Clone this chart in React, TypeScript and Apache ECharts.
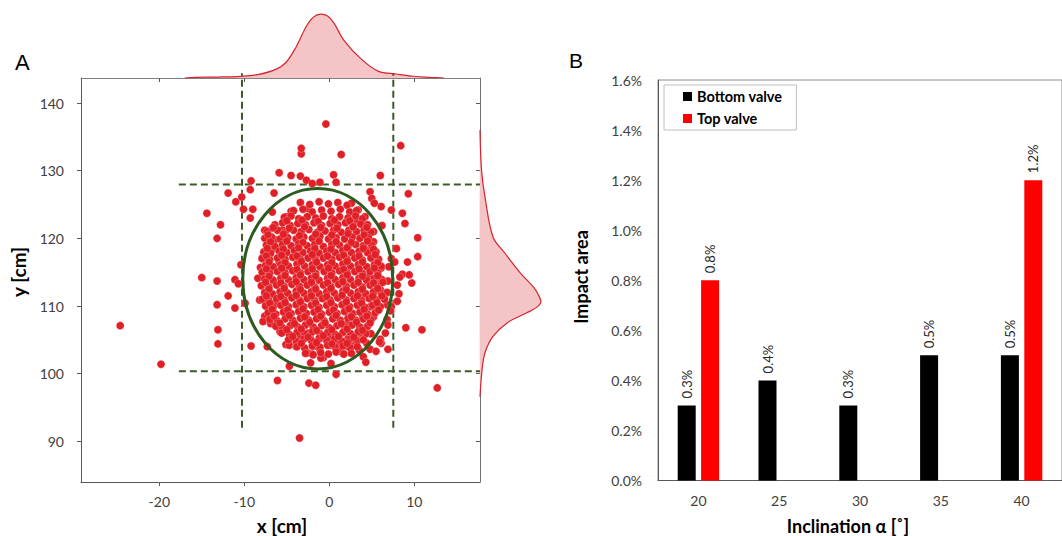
import React, { useEffect, useRef } from 'react';
import * as echarts from 'echarts';

// ---------- Panel A data (cm) ----------
const xTicks = [-20, -10, 0, 10];
const yTicks = [90, 100, 110, 120, 130, 140];

const outlierPoints: number[][] = [
  [-11.9, 126.7], [-11.0, 125.4], [-10.3, 126.1], [-10.1, 124.3], [-14.4, 123.7], [-12.8, 122.0], [-13.2, 120.0],
  [-9.2, 128.5], [-9.3, 127.2], [-9.3, 123.0], [-10.4, 116.1], [-15.0, 114.2], [-13.2, 113.7], [-11.1, 113.9],
  [-10.7, 113.3], [-11.9, 111.5], [-13.2, 110.2], [-11.1, 109.7], [-9.9, 110.4], [-24.6, 107.1], [-13.1, 106.5],
  [-13.1, 104.4], [-19.8, 101.4], [-9.2, 104.1],
  [8.4, 133.7], [9.3, 126.6], [6.0, 129.3], [6.1, 124.7], [7.3, 124.2], [8.6, 123.7], [8.9, 122.2], [6.2, 121.9],
  [10.4, 120.1], [7.9, 118.5], [10.4, 117.3], [7.3, 117.0], [7.7, 116.5], [9.2, 116.5], [7.0, 115.8], [6.1, 115.6],
  [8.6, 114.7], [9.4, 114.6], [8.3, 114.3], [6.3, 113.7], [6.9, 113.7], [8.0, 113.1], [9.7, 113.4], [6.2, 112.1],
  [6.8, 112.0], [8.2, 111.8], [8.0, 110.7], [6.8, 110.2], [7.3, 109.9], [7.2, 109.3], [6.8, 108.0], [9.0, 106.8],
  [10.9, 106.5], [6.0, 105.1], [6.6, 106.0], [6.1, 104.5], [6.9, 103.6], [12.7, 97.9],
  [1.4, 132.4], [0.5, 129.4], [0.8, 128.3], [4.8, 126.9], [5.0, 125.9], [5.3, 125.2], [-3.3, 132.5], [-3.3, 133.3],
  [-0.4, 136.9], [-5.9, 129.7], [-4.5, 129.3], [-3.4, 129.2], [-2.7, 128.6], [-2.0, 128.1], [-1.1, 128.3],
  [-6.5, 126.7], [-9.0, 124.3], [-6.7, 123.9], [-4.5, 124.0], [-5.1, 123.2], [-2.5, 124.4],
  [-7.6, 121.2], [-6.7, 121.5], [-5.5, 121.2], [-7.0, 119.9], [-6.4, 119.8], [-6.6, 118.5], [-5.6, 118.8],
  [-7.9, 117.1], [-6.8, 115.8], [-5.9, 116.5], [-8.1, 115.7], [-7.8, 115.2], [-7.1, 115.7], [-8.4, 114.1],
  [-6.6, 113.8], [-8.2, 110.9], [-7.5, 110.6], [-6.3, 110.4], [-7.1, 109.7], [-7.6, 108.5], [-7.8, 107.7],
  [-6.9, 107.4], [-5.8, 106.6],
  [6.9, 107.2], [5.9, 104.7], [4.8, 103.6], [4.0, 102.5], [2.6, 125.2], [3.4, 124.2], [4.2, 123.2], [3.2, 122.5],
  [5.2, 121.0], [4.2, 120.7], [5.2, 119.5], [4.4, 118.3], [5.4, 117.3], [5.2, 115.6], [4.6, 114.3], [5.5, 113.6],
  [6.0, 112.4], [5.2, 111.4], [3.8, 111.4], [4.8, 109.9], [5.8, 109.4], [5.2, 108.4], [3.9, 108.2], [4.4, 106.9],
  [3.6, 106.0], [2.8, 104.7], [2.1, 107.4], [2.8, 108.9],
  [-7.3, 104.0], [-5.1, 104.3], [-4.7, 104.2], [-3.9, 104.0], [-4.7, 101.1], [-6.1, 99.0], [-2.4, 98.6],
  [-1.6, 98.3], [-2.2, 101.6], [0.2, 101.5], [0.8, 99.9], [4.3, 101.7], [-3.5, 90.5], [-2.6, 103.1], [-2.0, 102.9],
  [-0.7, 102.4], [1.7, 102.9], [3.5, 103.5], [5.5, 103.3], [-1.6, 104.1], [0.1, 104.2], [2.2, 104.0], [1.3, 103.3],
  [-1.1, 103.5], [0.9, 104.5], [-2.3, 105.5], [-3.5, 105.7], [-1.1, 105.2], [-0.1, 105.5], [2.2, 105.2],
  [3.2, 104.7], [4.4, 104.5], [4.9, 105.9], [-4.6, 105.7], [-5.8, 106.2], [-2.5, 106.0], [-1.0, 102.3],
];

const corePoints: number[][] = [
  [-3.4, 125.3], [-2.3, 125.0], [-1.2, 125.4], [-0.1, 125.1], [1.0, 125.3], [2.1, 124.9],
  [-4.2, 124.1], [-3.1, 124.3], [-2.0, 123.9], [-0.9, 124.2], [0.2, 124.0], [1.3, 124.3], [2.4, 123.9], [3.2, 124.1],
  [-5.3, 123.1], [-4.5, 123.3], [-3.6, 122.9], [-2.6, 123.2], [-1.6, 123.0], [-0.7, 123.3], [0.3, 122.9], [1.2, 123.2], [2.2, 123.0], [3.1, 123.3], [3.9, 122.9],
  [-6.4, 122.0], [-5.5, 122.3], [-4.6, 121.9], [-3.7, 122.2], [-2.8, 122.0], [-1.8, 122.3], [-0.9, 121.9], [0.1, 122.2], [1.0, 122.0], [1.9, 122.3], [2.8, 121.9], [3.7, 122.1], [4.5, 122.0],
  [-7.3, 121.0], [-6.1, 121.2], [-5.2, 120.9], [-4.2, 121.2], [-3.3, 121.0], [-2.4, 121.3], [-1.4, 120.9], [-0.5, 121.1], [0.5, 121.2], [1.4, 120.9], [2.3, 121.2], [3.2, 121.0], [4.1, 121.2], [4.9, 120.9],
  [-7.6, 120.0], [-6.8, 120.2], [-5.8, 119.9], [-4.9, 120.1], [-3.9, 119.9], [-3.0, 120.2], [-2.0, 120.0], [-1.1, 120.3], [-0.1, 119.9], [0.8, 120.1], [1.8, 119.9], [2.7, 120.2], [3.6, 120.0], [4.6, 120.1],
  [-7.4, 119.0], [-6.4, 118.8], [-5.5, 119.1], [-4.5, 118.9], [-3.6, 119.2], [-2.6, 118.9], [-1.7, 119.1], [-0.7, 118.8], [0.3, 119.1], [1.2, 119.0], [2.2, 118.8], [3.1, 119.1], [4.0, 118.9], [5.0, 119.0],
  [-7.7, 118.0], [-6.9, 117.8], [-5.9, 118.1], [-5.0, 117.9], [-4.1, 118.2], [-3.1, 117.9], [-2.2, 118.1], [-1.2, 117.8], [-0.3, 118.1], [0.7, 117.9], [1.6, 118.2], [2.6, 117.9], [3.5, 118.1], [4.5, 117.9], [5.5, 118.0],
  [-7.9, 117.0], [-7.0, 116.8], [-6.1, 117.1], [-5.2, 116.9], [-4.3, 117.2], [-3.4, 116.9], [-2.5, 117.1], [-1.6, 116.8], [-0.7, 117.1], [0.3, 116.9], [1.2, 117.2], [2.1, 116.9], [3.0, 117.1], [3.9, 116.8], [4.9, 117.1], [5.8, 116.9],
  [-7.5, 116.0], [-6.6, 115.8], [-5.7, 116.1], [-4.8, 115.9], [-3.8, 116.2], [-2.9, 115.9], [-2.0, 116.1], [-1.1, 115.8], [-0.2, 116.1], [0.7, 115.9], [1.6, 116.2], [2.5, 115.9], [3.4, 116.1], [4.4, 115.8], [5.3, 116.1], [6.1, 115.9],
  [-7.9, 115.0], [-7.0, 114.8], [-6.1, 115.1], [-5.2, 114.9], [-4.3, 115.2], [-3.4, 114.9], [-2.5, 115.1], [-1.6, 114.8], [-0.6, 115.1], [0.3, 114.9], [1.2, 115.2], [2.1, 114.9], [3.0, 115.1], [3.9, 114.8], [4.8, 115.1], [5.7, 114.9],
  [-7.6, 114.0], [-6.6, 113.8], [-5.7, 114.1], [-4.8, 113.9], [-3.9, 114.2], [-3.0, 113.9], [-2.1, 114.1], [-1.2, 113.8], [-0.2, 114.1], [0.7, 113.9], [1.6, 114.2], [2.5, 113.9], [3.5, 114.1], [4.4, 113.8], [5.3, 114.1], [6.2, 113.9],
  [-8.0, 113.0], [-7.1, 112.8], [-6.2, 113.1], [-5.3, 112.9], [-4.4, 113.2], [-3.5, 112.9], [-2.6, 113.1], [-1.7, 112.8], [-0.7, 113.1], [0.2, 112.9], [1.1, 113.2], [2.0, 112.9], [2.9, 113.1], [3.9, 112.8], [4.8, 113.1], [5.7, 112.9],
  [-7.6, 112.0], [-6.7, 111.8], [-5.8, 112.1], [-4.9, 111.9], [-3.9, 112.2], [-3.0, 111.9], [-2.1, 112.1], [-1.2, 111.8], [-0.3, 112.1], [0.6, 111.9], [1.6, 112.2], [2.5, 111.9], [3.4, 112.1], [4.3, 111.8], [5.2, 112.1], [6.1, 111.9], [6.8, 112.0],
  [-7.9, 111.0], [-7.1, 110.8], [-6.2, 111.1], [-5.3, 110.9], [-4.4, 111.2], [-3.5, 110.9], [-2.6, 111.1], [-1.7, 110.8], [-0.8, 111.1], [0.1, 110.9], [1.0, 111.2], [2.0, 110.9], [2.9, 111.1], [3.8, 110.8], [4.7, 111.1], [5.6, 110.9], [6.5, 111.0],
  [-7.5, 110.0], [-6.6, 109.8], [-5.7, 110.1], [-4.8, 109.9], [-3.9, 110.2], [-3.0, 109.9], [-2.1, 110.1], [-1.2, 109.8], [-0.3, 110.1], [0.6, 109.9], [1.5, 110.2], [2.4, 109.9], [3.3, 110.1], [4.2, 109.8], [5.1, 110.1], [6.0, 109.9],
  [-7.2, 109.0], [-6.3, 108.8], [-5.4, 109.1], [-4.5, 108.9], [-3.6, 109.2], [-2.7, 108.9], [-1.8, 109.1], [-0.9, 108.8], [0.0, 109.1], [0.9, 108.9], [1.8, 109.2], [2.7, 108.9], [3.6, 109.1], [4.5, 108.8], [5.4, 109.0],
  [-7.0, 108.0], [-6.1, 107.8], [-5.2, 108.1], [-4.3, 107.9], [-3.4, 108.2], [-2.4, 107.9], [-1.5, 108.1], [-0.6, 107.8], [0.4, 108.1], [1.3, 107.9], [2.2, 108.2], [3.1, 107.9], [4.0, 108.1], [4.9, 107.9],
  [-6.3, 107.0], [-5.5, 106.8], [-4.6, 107.1], [-3.7, 106.9], [-2.8, 107.2], [-1.9, 106.9], [-0.9, 107.1], [0.0, 106.8], [0.9, 107.1], [1.8, 106.9], [2.7, 107.2], [3.6, 106.9], [4.5, 107.0],
  [-5.6, 106.0], [-4.7, 105.8], [-3.8, 106.1], [-2.9, 105.9], [-2.0, 106.2], [-1.1, 105.9], [-0.2, 106.1], [0.7, 105.8], [1.6, 106.1], [2.5, 105.9], [3.4, 106.2], [4.3, 105.9],
  [-4.8, 105.0], [-3.9, 104.8], [-3.0, 105.1], [-2.1, 104.9], [-1.2, 105.2], [-0.3, 104.9], [0.6, 105.1], [1.5, 104.8], [2.4, 105.1], [3.3, 104.9], [4.0, 105.0],
  [-3.8, 104.0], [-2.9, 103.8], [-2.0, 104.1], [-1.1, 103.9], [-0.2, 104.2], [0.7, 103.9], [1.6, 104.1], [2.5, 103.8], [3.3, 104.0],
  [-2.8, 103.0], [-1.9, 102.8], [-1.0, 103.1], [-0.1, 102.9], [0.8, 103.2], [1.7, 102.9], [2.6, 103.0],
];

// overlapping points lying between the rows above (the dense core)
const coreFillPoints: number[][] = [
  [-5.0, 122.6], [-3.2, 122.7], [-1.3, 122.5], [0.6, 122.7], [2.4, 122.6],
  [-6.6, 121.6], [-4.7, 121.5], [-2.9, 121.7], [-1.0, 121.6], [0.9, 121.5], [2.8, 121.7], [4.4, 121.6],
  [-7.2, 120.5], [-5.4, 120.6], [-3.5, 120.4], [-1.6, 120.6], [0.3, 120.5], [2.2, 120.7], [4.1, 120.5],
  [-6.9, 119.5], [-5.0, 119.6], [-3.1, 119.4], [-1.2, 119.6], [0.8, 119.5], [2.6, 119.4], [4.5, 119.6],
  [-7.3, 118.5], [-5.4, 118.4], [-3.6, 118.6], [-1.7, 118.5], [0.2, 118.4], [2.1, 118.6], [4.0, 118.5], [5.2, 118.4],
  [-7.4, 117.4], [-5.6, 117.5], [-3.8, 117.4], [-2.0, 117.6], [-0.2, 117.4], [1.7, 117.5], [3.5, 117.4], [5.4, 117.6],
  [-7.1, 116.5], [-5.2, 116.4], [-3.3, 116.6], [-1.5, 116.5], [0.3, 116.4], [2.1, 116.6], [3.9, 116.5], [5.7, 116.4],
  [-7.4, 115.5], [-5.6, 115.6], [-3.8, 115.4], [-2.0, 115.5], [-0.1, 115.6], [1.7, 115.4], [3.5, 115.5], [5.3, 115.6],
  [-7.1, 114.4], [-5.2, 114.5], [-3.4, 114.6], [-1.6, 114.4], [0.2, 114.5], [2.1, 114.6], [3.9, 114.4], [5.7, 114.5],
  [-7.5, 113.5], [-5.7, 113.4], [-3.9, 113.6], [-2.1, 113.5], [-0.2, 113.4], [1.6, 113.6], [3.4, 113.5], [5.2, 113.4], [6.3, 113.5],
  [-7.1, 112.5], [-5.3, 112.6], [-3.4, 112.4], [-1.6, 112.5], [0.2, 112.6], [2.0, 112.4], [3.9, 112.5], [5.7, 112.6],
  [-7.4, 111.5], [-5.7, 111.4], [-3.9, 111.6], [-2.1, 111.5], [-0.3, 111.4], [1.5, 111.6], [3.3, 111.5], [5.1, 111.4], [6.2, 111.5],
  [-7.0, 110.4], [-5.2, 110.5], [-3.4, 110.6], [-1.6, 110.4], [0.2, 110.5], [2.0, 110.6], [3.8, 110.4], [5.6, 110.5],
  [-6.7, 109.5], [-4.9, 109.4], [-3.1, 109.6], [-1.3, 109.5], [0.5, 109.4], [2.3, 109.6], [4.1, 109.5], [5.8, 109.4],
  [-6.5, 108.5], [-4.7, 108.6], [-2.9, 108.4], [-1.0, 108.5], [0.8, 108.6], [2.6, 108.4], [4.4, 108.5],
  [-5.8, 107.5], [-4.1, 107.4], [-2.3, 107.6], [-0.5, 107.5], [1.4, 107.4], [3.2, 107.6], [4.8, 107.5],
  [-5.0, 106.5], [-3.3, 106.6], [-1.5, 106.4], [0.3, 106.5], [2.1, 106.6], [3.9, 106.4],
  [-4.3, 105.5], [-2.5, 105.4], [-0.7, 105.6], [1.1, 105.5], [2.9, 105.4],
  [-3.3, 104.5], [-1.5, 104.6], [0.3, 104.4], [2.1, 104.5],
];

// marginal densities (relative, peak = 1)
const topDensity: number[][] = [
  [-17.0, 0], [-15.7, 0.01], [-13.0, 0.015], [-10.4, 0.027], [-8.4, 0.053], [-6.3, 0.135], [-5.1, 0.243],
  [-3.9, 0.487], [-2.7, 0.81], [-1.9, 0.95], [-1.0, 1.0], [-0.2, 0.97], [0.55, 0.86], [1.7, 0.595],
  [3.8, 0.292], [5.8, 0.104], [7.85, 0.063], [9.9, 0.027], [11.9, 0.011], [13.5, 0],
];
const rightDensity: number[][] = [
  [136.0, 0], [130.1, 0.025], [126.1, 0.082], [120.2, 0.214], [117.8, 0.41], [114.9, 0.66], [112.9, 0.87],
  [111.8, 0.95], [110.6, 1.0], [109.8, 0.93], [109.0, 0.77], [107.5, 0.445], [105.5, 0.214], [103.1, 0.082],
  [100.5, 0.033], [96.6, 0],
];

// 95% ellipse and limit lines (cm)
const ellipseCenter = [-1.36, 114.03];
const ellipseRadii = [8.82, 13.34];
const limitX = [-10.27, 7.53];
const limitY = [100.35, 127.95];
const limitVertSpan = [92.0, 144.4];
const limitHorizSpan = [-17.7, 17.73];

// ---------- Panel B data ----------
const inclinations = ['20', '25', '30', '35', '40'];
const bottomValve = [0.3, 0.4, 0.3, 0.5, 0.5];
const topValve = [0.8, null, null, null, 1.2];

// ---------- layout ----------
const X_MIN = -29.21, X_MAX = 17.73;
const Y_MIN = 83.99, Y_MAX = 143.7;
const FONT = 'Lato';
const AXIS = '#595959';
const RED = '#e11f26';
const GREEN_D = '#3b5c25';
const GREEN_E = '#2d5a1f';

function buildOption(): any {
  const dashed = (data: number[][]) => ({
    type: 'line', xAxisIndex: 0, yAxisIndex: 0, data, symbol: 'none', clip: false, silent: true,
    lineStyle: { color: GREEN_D, width: 2, type: [7, 4] }, z: 2,
  });
  return {
    animation: false,
    textStyle: { fontFamily: FONT },
    grid: [
      { left: 81, top: 78, width: 399, height: 404 },
      { left: 81, top: 11, width: 399, height: 67 },
      { left: 480, top: 78, width: 70, height: 404 },
      { left: 658, top: 80, width: 416, height: 400.5, show: true, borderColor: '#8c8c8c', borderWidth: 1 },
    ],
    xAxis: [
      {
        gridIndex: 0, type: 'value', min: X_MIN, max: X_MAX, position: 'bottom',
        axisLine: { show: true, onZero: false, lineStyle: { color: AXIS } },
        axisTick: { show: true, length: 4, customValues: xTicks, lineStyle: { color: AXIS } },
        axisLabel: { customValues: xTicks, fontSize: 14, color: '#404040', margin: 12, fontFamily: FONT },
        splitLine: { show: false },
      },
      {
        gridIndex: 0, type: 'value', min: X_MIN, max: X_MAX, position: 'top',
        axisLine: { show: true, onZero: false, lineStyle: { color: '#808080' } },
        axisTick: { show: true, inside: true, length: 4, customValues: xTicks, lineStyle: { color: AXIS } },
        axisLabel: { show: false }, splitLine: { show: false },
      },
      { gridIndex: 1, type: 'value', min: X_MIN, max: X_MAX, show: false },
      { gridIndex: 2, type: 'value', min: 0, max: 1.15, show: false },
      {
        gridIndex: 3, type: 'category', data: inclinations,
        axisLine: { show: true, lineStyle: { color: AXIS } }, axisTick: { show: false },
        axisLabel: { fontSize: 14, color: '#404040', margin: 13, fontFamily: FONT },
      },
    ],
    yAxis: [
      {
        gridIndex: 0, type: 'value', min: Y_MIN, max: Y_MAX,
        axisLine: { show: true, onZero: false, lineStyle: { color: AXIS } },
        axisTick: { show: true, length: 4, customValues: yTicks, lineStyle: { color: AXIS } },
        axisLabel: { customValues: yTicks, fontSize: 14, color: '#404040', margin: 17, fontFamily: FONT },
        splitLine: { show: false },
      },
      {
        gridIndex: 0, type: 'value', min: Y_MIN, max: Y_MAX, position: 'right',
        axisLine: { show: true, onZero: false, lineStyle: { color: '#707070' } },
        axisTick: { show: true, inside: true, length: 4, customValues: yTicks, lineStyle: { color: AXIS } },
        axisLabel: { show: false }, splitLine: { show: false },
      },
      { gridIndex: 1, type: 'value', min: 0, max: 1.05, show: false },
      { gridIndex: 2, type: 'value', min: Y_MIN, max: Y_MAX, show: false },
      {
        gridIndex: 3, type: 'value', min: 0, max: 1.6, interval: 0.2,
        axisLine: { show: true, onZero: false, lineStyle: { color: AXIS } }, axisTick: { show: false },
        axisLabel: { fontSize: 14, color: '#404040', margin: 16, fontFamily: FONT, formatter: (v: number) => v.toFixed(1) + '%' },
        splitLine: { show: false },
      },
    ],
    legend: {
      data: ['Bottom valve', 'Top valve'], orient: 'vertical', left: 664, top: 85,
      icon: 'rect', itemWidth: 9, itemHeight: 9, itemGap: 7,
      padding: [4, 14, 4, 19], borderColor: '#bfbfbf', borderWidth: 1, backgroundColor: '#fff',
      textStyle: { fontSize: 14.5, fontWeight: 'bold', color: '#000', fontFamily: FONT },
    },
    graphic: [
      { type: 'text', x: 15, y: 62, style: { text: 'A', fontSize: 22, fontFamily: 'Liberation Sans', fill: '#000', verticalAlign: 'middle' } },
      { type: 'text', x: 569, y: 60, style: { text: 'B', fontSize: 21, fontFamily: 'Liberation Sans', fill: '#000', verticalAlign: 'middle' } },
      { type: 'text', x: 282, y: 525, style: { text: 'x [cm]', fontSize: 19, fontWeight: 'bold', fontFamily: FONT, fill: '#000', align: 'center', verticalAlign: 'middle' } },
      { type: 'text', x: 18, y: 272, rotation: Math.PI / 2, style: { text: 'y [cm]', fontSize: 19, fontWeight: 'bold', fontFamily: FONT, fill: '#000', align: 'center', verticalAlign: 'middle' } },
      { type: 'text', x: 581, y: 277, rotation: Math.PI / 2, style: { text: 'Impact area', fontSize: 18, fontWeight: 'bold', fontFamily: FONT, fill: '#000', align: 'center', verticalAlign: 'middle' } },
      { type: 'text', x: 848, y: 526, style: { text: 'Inclination α [˚]', fontSize: 18, fontWeight: 'bold', fontFamily: FONT, fill: '#000', align: 'center', verticalAlign: 'middle' } },
    ],
    series: [
      dashed([[limitX[0], limitVertSpan[0]], [limitX[0], limitVertSpan[1]]]),
      dashed([[limitX[1], limitVertSpan[0]], [limitX[1], limitVertSpan[1]]]),
      dashed([[limitHorizSpan[0], limitY[0]], [limitHorizSpan[1], limitY[0]]]),
      dashed([[limitHorizSpan[0], limitY[1]], [limitHorizSpan[1], limitY[1]]]),
      {
        type: 'scatter', xAxisIndex: 0, yAxisIndex: 0, symbol: 'circle', symbolSize: 8,
        data: [...outlierPoints, ...corePoints, ...coreFillPoints],
        itemStyle: { color: RED, borderColor: 'rgba(255,235,235,0.55)', borderWidth: 0.5, opacity: 1 },
        z: 3,
      },
      {
        type: 'custom', xAxisIndex: 0, yAxisIndex: 0, data: [ellipseCenter], z: 4, silent: true,
        renderItem: (_p: any, api: any) => {
          const c = api.coord([api.value(0), api.value(1)]);
          const s = api.size([ellipseRadii[0], ellipseRadii[1]], [api.value(0), api.value(1)]);
          return {
            type: 'ellipse', shape: { cx: c[0], cy: c[1], rx: s[0], ry: s[1] },
            style: { fill: 'none', stroke: GREEN_E, lineWidth: 3 },
          };
        },
      },
      {
        type: 'line', xAxisIndex: 2, yAxisIndex: 2, data: topDensity, symbol: 'none', smooth: 0.35,
        lineStyle: { color: '#d7232a', width: 1.2 }, areaStyle: { color: '#f5c4c6', opacity: 1 }, z: 2,
      },
      {
        type: 'custom', xAxisIndex: 3, yAxisIndex: 3, silent: true,
        data: rightDensity.map(([y, d]) => [d, y]),
        renderItem: (p: any, api: any) => {
          if (p.dataIndex !== 0) return null;
          const pts = rightDensity.map(([y, d]) => api.coord([d, y]));
          return {
            type: 'group',
            children: [
              { type: 'polygon', shape: { points: pts, smooth: 0.35 }, style: { fill: '#f5c4c6', stroke: 'none' } },
              { type: 'polyline', shape: { points: pts, smooth: 0.35 }, style: { fill: 'none', stroke: '#d7232a', lineWidth: 1.2 } },
            ],
          };
        },
      },
      {
        name: 'Bottom valve', type: 'bar', xAxisIndex: 4, yAxisIndex: 4, data: bottomValve,
        barWidth: 18, barGap: '30%', itemStyle: { color: '#000000' },
        label: {
          show: true, position: 'top', rotate: 90, align: 'left', verticalAlign: 'middle', distance: 7,
          fontSize: 13, color: '#262626', fontFamily: FONT, formatter: (p: any) => Number(p.value).toFixed(1) + '%',
        },
      },
      {
        name: 'Top valve', type: 'bar', xAxisIndex: 4, yAxisIndex: 4, data: topValve,
        barWidth: 18, barGap: '30%', itemStyle: { color: '#ff0000' },
        label: {
          show: true, position: 'top', rotate: 90, align: 'left', verticalAlign: 'middle', distance: 7,
          fontSize: 13, color: '#262626', fontFamily: FONT,
          formatter: (p: any) => (p.value == null ? '' : Number(p.value).toFixed(1) + '%'),
        },
      },
    ],
  };
}

export default function App() {
  const ref = useRef<HTMLDivElement>(null);
  useEffect(() => {
    if (!ref.current) return;
    const chart = echarts.init(ref.current, null, { renderer: 'svg' });
    chart.setOption(buildOption());
    return () => chart.dispose();
  }, []);
  return (
    <div
      ref={ref}
      style={{ position: 'fixed', left: 0, top: 0, width: 1062, height: 536, background: '#ffffff' }}
    />
  );
}
